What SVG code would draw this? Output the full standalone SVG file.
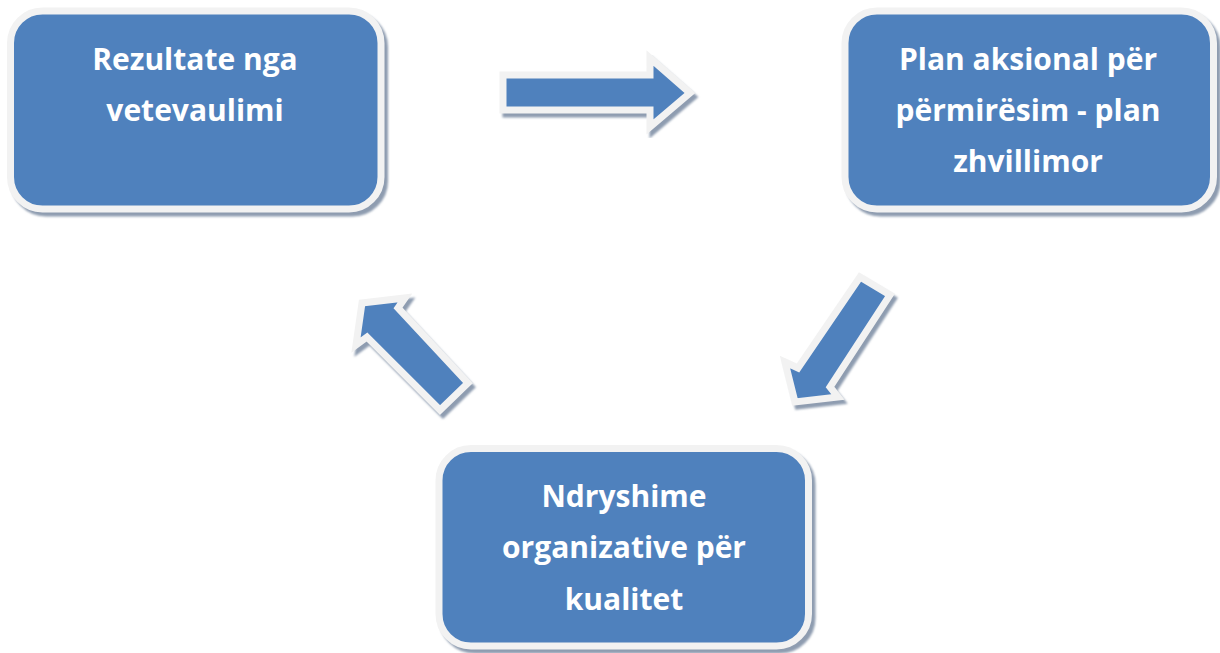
<svg xmlns="http://www.w3.org/2000/svg" width="1220" height="653" viewBox="0 0 1220 653">
<defs>
<style>
.sh{fill:#8E9CB0;stroke:#8E9CB0;stroke-width:7;stroke-linejoin:round}
.bx{fill:#4F81BD;stroke:#F2F2F2;stroke-width:7}
.ar{fill:#4F81BD;stroke:#F2F2F2;stroke-width:7;stroke-linejoin:miter}
.ash{fill:#8E9CB0;stroke:#8E9CB0;stroke-width:7;stroke-linejoin:miter}
.t{font-family:"Open Sans",Lato,sans-serif;font-weight:bold;font-size:30px;fill:#FFFFFF;text-anchor:middle}
</style>
<filter id="blur" x="-10%" y="-10%" width="120%" height="120%"><feGaussianBlur stdDeviation="1"/></filter>
</defs>
<rect width="1220" height="653" fill="#FFFFFF"/>
<g id="connectors">
<g id="arrow-right">
<polygon class="ash" filter="url(#blur)" transform="translate(3,4)" points="503,75 650,75 650,58 690,93 650,127 650,110 503,110"/>
<polygon class="ar" points="503,75 650,75 650,58 690,93 650,127 650,110 503,110"/>
</g>
<g id="arrow-downleft">
<polygon class="ash" filter="url(#blur)" transform="translate(3,4)" points="860,277 890,295 830,387 838,397 795,402 785,362 798,368"/>
<polygon class="ar" points="860,277 890,295 830,387 838,397 795,402 785,362 798,368"/>
</g>
<g id="arrow-upleft">
<polygon class="ash" filter="url(#blur)" transform="translate(3,4)" points="468,383 440,410 367,337 356,345 362,303 405,298 398,308"/>
<polygon class="ar" points="468,383 440,410 367,337 356,345 362,303 405,298 398,308"/>
</g>
</g>
<g id="node-rezultate">
<rect class="sh" filter="url(#blur)" x="14" y="15" width="370.5" height="198" rx="32"/>
<rect class="bx" x="10.5" y="11" width="370.5" height="198" rx="32"/>
<text class="t" x="195" y="70">Rezultate nga</text>
<text class="t" x="195" y="121">vetevaulimi</text>
</g>
<g id="node-plan">
<rect class="sh" filter="url(#blur)" x="848.5" y="15" width="368.5" height="198" rx="32"/>
<rect class="bx" x="845" y="11" width="368.5" height="198" rx="32"/>
<text class="t" x="1028" y="70">Plan aksional për</text>
<text class="t" x="1028" y="121">përmirësim - plan</text>
<text class="t" x="1028" y="172">zhvillimor</text>
</g>
<g id="node-ndryshime">
<rect class="sh" filter="url(#blur)" x="442.5" y="452.5" width="369.5" height="197.5" rx="32"/>
<rect class="bx" x="439" y="448.5" width="369.5" height="197.5" rx="32"/>
<text class="t" x="624" y="507">Ndryshime</text>
<text class="t" x="624" y="558">organizative për</text>
<text class="t" x="624" y="610">kualitet</text>
</g>
</svg>
